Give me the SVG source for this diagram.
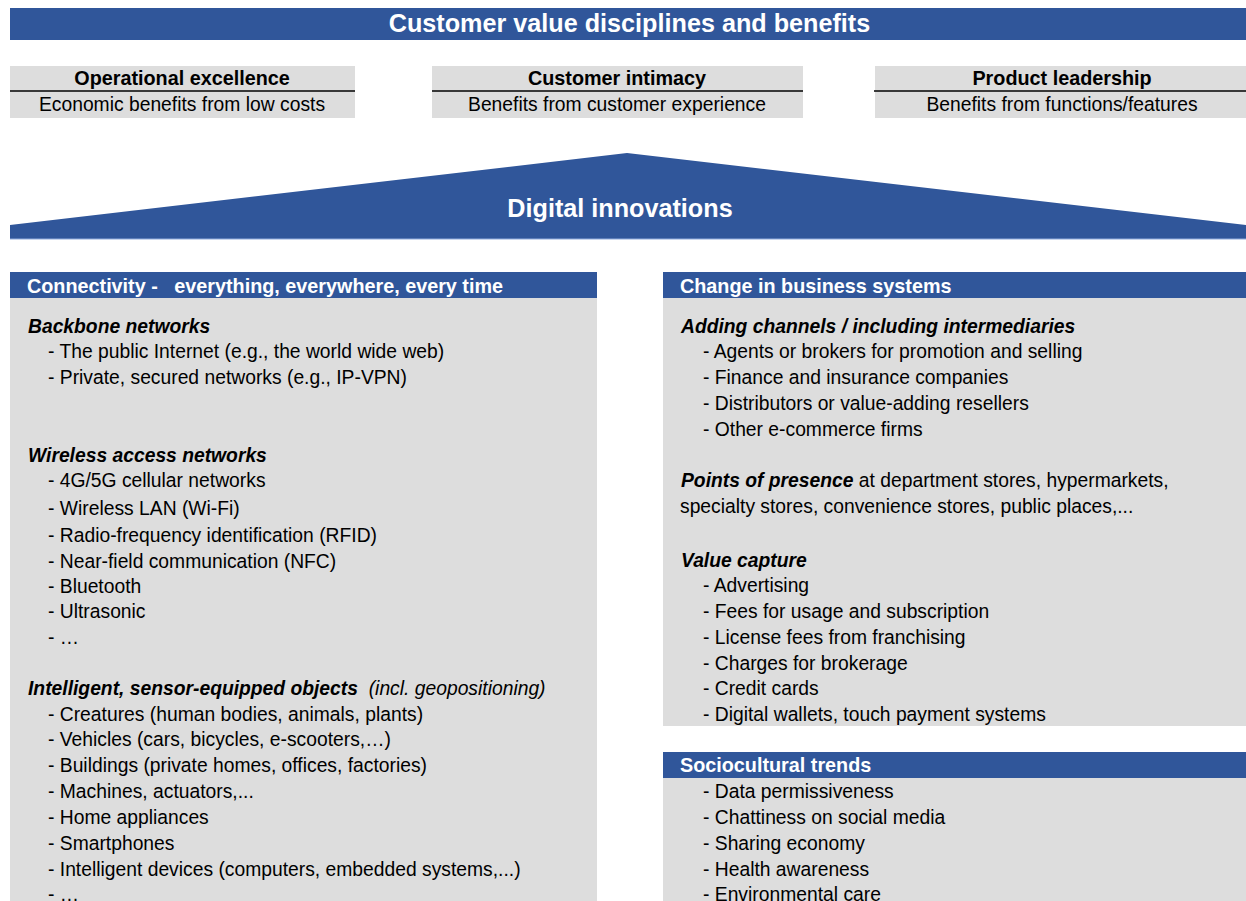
<svg xmlns="http://www.w3.org/2000/svg" width="1246" height="901" viewBox="0 0 1246 901">
<style>
text{font-family:"Liberation Sans",Arial,sans-serif;font-size:19.3px;fill:#000;white-space:pre}
.w{fill:#fff;font-weight:bold}
.big{font-size:25.2px}
.hd{font-size:19.8px}
.b{font-weight:bold;font-size:19.8px}
.bi{font-weight:bold;font-style:italic}
.i{font-style:italic}
.blue{fill:#30569A}
.gray{fill:#DDDDDD}
.c{text-anchor:middle}
</style>
<rect width="1246" height="901" fill="#fff"/>
<g id="banner">
<rect class="blue" x="10" y="8" width="1236" height="32"/>
<text class="w big c" x="629.5" y="32">Customer value disciplines and benefits</text>
</g>
<g id="operational">
<rect class="gray" x="10" y="66" width="345" height="52"/>
<line x1="10" y1="91" x2="355" y2="91" stroke="#000" stroke-width="1.3"/>
<text class="b c" x="182" y="85">Operational excellence</text>
<text class="c" x="182" y="111">Economic benefits from low costs</text>
</g>
<g id="intimacy">
<rect class="gray" x="432" y="66" width="371" height="52"/>
<line x1="432" y1="91" x2="803" y2="91" stroke="#000" stroke-width="1.3"/>
<text class="b c" x="617" y="85">Customer intimacy</text>
<text class="c" x="617" y="111">Benefits from customer experience</text>
</g>
<g id="leadership">
<rect class="gray" x="875" y="66" width="371" height="52"/>
<line x1="874" y1="91" x2="1246" y2="91" stroke="#000" stroke-width="1.3"/>
<text class="b c" x="1062" y="85">Product leadership</text>
<text class="c" x="1062" y="111">Benefits from functions/features</text>
</g>
<g id="digital">
<polygon class="blue" points="10,225 627,153 1246,225 1246,239 10,239"/>
<line x1="10" y1="239" x2="1246" y2="239" stroke="#8FAADC" stroke-width="1"/>
<text class="w big c" x="620" y="217">Digital innovations</text>
</g>
<g id="connectivity">
<rect class="gray" x="10" y="298" width="587" height="603"/>
<rect class="blue" x="10" y="272" width="587" height="26"/>
<text class="w hd" x="27" y="293" xml:space="preserve">Connectivity -   everything, everywhere, every time</text>
<text class="bi" x="28" y="333">Backbone networks</text>
<text x="48" y="358">- The public Internet (e.g., the world wide web)</text>
<text x="48" y="384">- Private, secured networks (e.g., IP-VPN)</text>
<text class="bi" x="28" y="462">Wireless access networks</text>
<text x="48" y="487">- 4G/5G cellular networks</text>
<text x="48" y="515">- Wireless LAN (Wi-Fi)</text>
<text x="48" y="542">- Radio-frequency identification (RFID)</text>
<text x="48" y="568">- Near-field communication (NFC)</text>
<text x="48" y="593">- Bluetooth</text>
<text x="48" y="618">- Ultrasonic</text>
<text x="48" y="644">- …</text>
<text x="28" y="695" xml:space="preserve"><tspan class="bi">Intelligent, sensor-equipped objects</tspan><tspan class="i">  (incl. geopositioning)</tspan></text>
<text x="48" y="721">- Creatures (human bodies, animals, plants)</text>
<text x="48" y="746">- Vehicles (cars, bicycles, e-scooters,…)</text>
<text x="48" y="772">- Buildings (private homes, offices, factories)</text>
<text x="48" y="798">- Machines, actuators,...</text>
<text x="48" y="824">- Home appliances</text>
<text x="48" y="850">- Smartphones</text>
<text x="48" y="876">- Intelligent devices (computers, embedded systems,...)</text>
<text x="48" y="901">- …</text>
</g>
<g id="business">
<rect class="gray" x="663" y="298" width="583" height="428"/>
<rect class="blue" x="663" y="272" width="583" height="26"/>
<text class="w hd" x="680" y="293">Change in business systems</text>
<text class="bi" x="681" y="333">Adding channels / including intermediaries</text>
<text x="703" y="358">- Agents or brokers for promotion and selling</text>
<text x="703" y="384">- Finance and insurance companies</text>
<text x="703" y="410">- Distributors or value-adding resellers</text>
<text x="703" y="436">- Other e-commerce firms</text>
<text x="681" y="487" xml:space="preserve"><tspan class="bi">Points of presence</tspan> at department stores, hypermarkets,</text>
<text x="680" y="513">specialty stores, convenience stores, public places,...</text>
<text class="bi" x="681" y="567">Value capture</text>
<text x="703" y="592">- Advertising</text>
<text x="703" y="618">- Fees for usage and subscription</text>
<text x="703" y="644">- License fees from franchising</text>
<text x="703" y="670">- Charges for brokerage</text>
<text x="703" y="695">- Credit cards</text>
<text x="703" y="721">- Digital wallets, touch payment systems</text>
</g>
<g id="sociocultural">
<rect class="gray" x="663" y="778" width="583" height="123"/>
<rect class="blue" x="663" y="752" width="583" height="26"/>
<text class="w hd" x="680" y="772">Sociocultural trends</text>
<text x="703" y="798">- Data permissiveness</text>
<text x="703" y="824">- Chattiness on social media</text>
<text x="703" y="850">- Sharing economy</text>
<text x="703" y="876">- Health awareness</text>
<text x="703" y="901">- Environmental care</text>
</g>
<g id="connectors"/>
</svg>
